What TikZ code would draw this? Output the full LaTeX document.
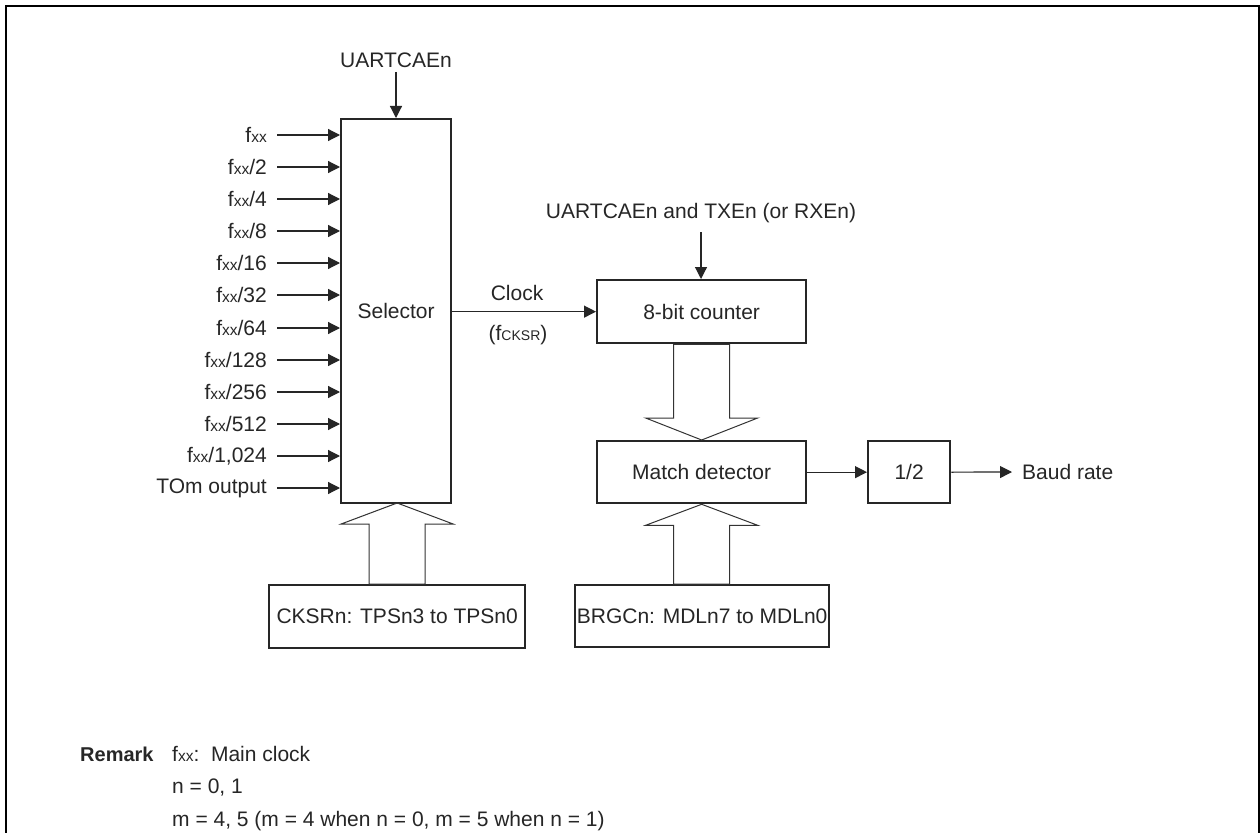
\documentclass[tikz,border=0pt]{standalone}
\usepackage{fontspec}
\setmainfont{Liberation Sans}
\usetikzlibrary{arrows.meta,calc}
\newcommand\sm[1]{{\fontsize{15.5}{15.5}\selectfont #1}}
\newcommand\smc[1]{{\fontsize{14}{14}\selectfont #1}}
\begin{document}
\begin{tikzpicture}[x=1pt,y=-1pt,
  every node/.style={font=\fontsize{21}{25}\selectfont, text=black!85},
  box/.style={draw=black!85, line width=2.3pt, inner sep=0pt, anchor=north west},
  arr/.style={draw=black!85, line width=1.2pt, -{Triangle[length=12pt,width=12pt]}},
  hollow/.style={draw=black!80, line width=1pt, line join=miter},
  inlbl/.style={anchor=east, inner xsep=10pt, inner ysep=0pt}]
\useasboundingbox (0,0) rectangle (1260,832);
\clip (0,0) rectangle (1260,832);
\fill[white] (0,0) rectangle (1260,832);
% outer frame
\draw[line width=2.3pt] (6,850) -- (6,6) -- (1259,6) -- (1259,850);

% boxes
\node[box, minimum width=110pt, minimum height=384pt] (sel) at (340,118) {Selector};
\node[box, minimum width=209pt, minimum height=63pt] (cnt) at (596,279) {8-bit counter};
\node[box, minimum width=209pt, minimum height=62pt] (mat) at (596,440) {Match detector};
\node[box, minimum width=82pt, minimum height=62pt] (half) at (867,440) {1/2};
\node[box, minimum width=256pt, minimum height=63pt] (cks) at (268,584) {CKSRn: TPSn3 to TPSn0};
\node[box, minimum width=254pt, minimum height=62pt] (brg) at (574,584) {BRGCn: MDLn7 to MDLn0};

% top control inputs
\node[inner sep=0pt] (ua) at (396,60) {UARTCAEn};
\coordinate (uas) at (396,72);
\draw[arr] (uas) -- (uas |- sel.north);
\node[inner sep=0pt] (uat) at (701,213) {UARTCAEn and TXEn (or RXEn)};
\coordinate (uats) at (701,232);
\draw[arr] (uats) -- (uats |- cnt.north);

% clock inputs
\node[inlbl] (i1) at (277,135) {f\sm{xx}};
\node[inlbl] (i2) at (277,167) {f\sm{xx}/2};
\node[inlbl] (i3) at (277,199) {f\sm{xx}/4};
\node[inlbl] (i4) at (277,231) {f\sm{xx}/8};
\node[inlbl] (i5) at (277,263) {f\sm{xx}/16};
\node[inlbl] (i6) at (277,295) {f\sm{xx}/32};
\node[inlbl] (i7) at (277,328) {f\sm{xx}/64};
\node[inlbl] (i8) at (277,360) {f\sm{xx}/128};
\node[inlbl] (i9) at (277,392) {f\sm{xx}/256};
\node[inlbl] (i10) at (277,424) {f\sm{xx}/512};
\node[inlbl] (i11) at (277,456) {f\sm{xx}/1,024};
\node[inlbl] (i12) at (277,488) {TOm output};
\foreach \i in {1,...,12} {
  \draw[arr] (i\i.east) -- (i\i.east -| sel.west);
}

% clock
\draw[arr] (sel.east |- cnt.west) -- (cnt.west);
\node (clk) at (517,293) {Clock};
\node (fck) at (518,335) {(f\smc{CKSR})};

% match -> 1/2 -> baud
\draw[arr] (mat.east) -- (half.west);
\node[anchor=west, inner xsep=10pt] (baud) at (1012,472) {Baud rate};
\draw[arr] (half.east) -- (baud.west);

% hollow arrows
\draw[hollow] ($(cks.north)+(0,-81)$) -- ++(56,21) -- ++(-28,0) -- ($(cks.north)+(28,0)$)
   -- ($(cks.north)+(-28,0)$) -- ($(cks.north)+(-28,-60)$) -- ++(-28,0) -- cycle;
\draw[hollow] (mat.north) -- ++(56,-22) -- ++(-28,0) -- ($(mat.north |- cnt.south)+(28,0)$)
   -- ($(mat.north |- cnt.south)+(-28,0)$) -- ($(mat.north)+(-28,-22)$) -- ++(-28,0) -- cycle;
\draw[hollow] (mat.south) -- ++(56,21) -- ++(-28,0) -- ($(mat.south |- brg.north)+(28,0)$)
   -- ($(mat.south |- brg.north)+(-28,0)$) -- ($(mat.south)+(-28,21)$) -- ++(-28,0) -- cycle;

% remark
\node[anchor=west, inner sep=0pt, font=\bfseries\fontsize{20}{24}\selectfont] (rem) at (80,754) {Remark};
\node[anchor=west, inner sep=0pt] (r1) at (172,754) {f\sm{xx}:\ \ Main clock};
\node[anchor=west, inner sep=0pt] (r2) at (172,788) {n = 0, 1};
\node[anchor=west, inner sep=0pt] (r3) at (172,821) {m = 4, 5 (m = 4 when n = 0, m = 5 when n = 1)};
\end{tikzpicture}
\end{document}
